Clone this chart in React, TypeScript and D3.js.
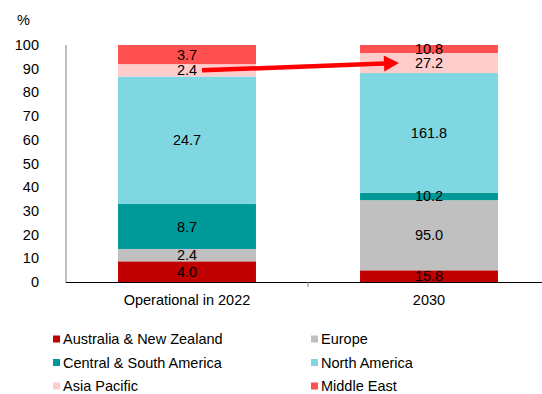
import * as d3 from "d3";

const categories = ["Operational in 2022", "2030"];
const regions = [
  "Australia & New Zealand",
  "Europe",
  "Central & South America",
  "North America",
  "Asia Pacific",
  "Middle East",
];
const colors = ["#C00000", "#C0C0C0", "#009999", "#7FD7E1", "#FFCCCC", "#FF5050"];
const values2022 = [4.0, 2.4, 8.7, 24.7, 2.4, 3.7];
const values2030 = [15.8, 95.0, 10.2, 161.8, 27.2, 10.8];
const yTicks = [0, 10, 20, 30, 40, 50, 60, 70, 80, 90, 100];

const width = 542;
const height = 394;
const font = "'Liberation Sans', Arial, sans-serif";
const fs = 14.5;

export default function App() {
  const rows = categories.map((c, i) => {
    const vals = i === 0 ? values2022 : values2030;
    const r: Record<string, number | string> = { category: c };
    regions.forEach((reg, j) => (r[reg] = vals[j]));
    return r;
  });
  const series = d3
    .stack<Record<string, number | string>>()
    .keys(regions)
    .offset(d3.stackOffsetExpand)(rows as any);

  const x = d3.scaleBand(categories, [66, 550]).paddingInner(0.43).paddingOuter(0.215);
  const y = d3.scaleLinear([0, 100], [282, 45]);

  // arrow between the Asia Pacific labels
  const ap = series[4];
  const ay0 = y(((ap[0][0] + ap[0][1]) / 2) * 100);
  const ay1 = y(((ap[1][0] + ap[1][1]) / 2) * 100);
  const ax0 = x(categories[0])! + x.bandwidth() / 2 + 15;
  const ax1 = x(categories[1])! + x.bandwidth() / 2 - 30;
  const ang = Math.atan2(ay1 - ay0, ax1 - ax0);
  const headLen = 15;
  const headW = 8;
  const bx = ax1 - headLen * Math.cos(ang);
  const by = ay1 - headLen * Math.sin(ang);
  const px = -Math.sin(ang);
  const py = Math.cos(ang);

  return (
    <svg
      width={width}
      height={height}
      style={{ position: "absolute", left: 0, top: 0, background: "#fff" }}
      fontFamily={font}
    >
      <text x={17} y={25} fontSize={fs} fill="#000">%</text>
      {yTicks.map((t) => (
        <text key={t} x={39} y={y(t)} dy="0.35em" textAnchor="end" fontSize={fs} fill="#000">
          {t}
        </text>
      ))}

      {series.map((s, i) =>
        s.map((d, j) => {
          const y0 = y(d[0] * 100);
          const y1 = y(d[1] * 100);
          return (
            <rect
              key={`${i}-${j}`}
              x={x(categories[j])}
              y={y1}
              width={x.bandwidth()}
              height={y0 - y1}
              fill={colors[i]}
            />
          );
        })
      )}
      {series.map((s, i) =>
        s.map((d, j) => (
          <text
            key={`l${i}-${j}`}
            x={x(categories[j])! + x.bandwidth() / 2}
            y={y(((d[0] + d[1]) / 2) * 100)}
            dy="0.35em"
            textAnchor="middle"
            fontSize={fs}
            fill="#000"
          >
            {(j === 0 ? values2022 : values2030)[i].toFixed(1)}
          </text>
        ))
      )}

      <line x1={66} x2={66} y1={45} y2={283} stroke="#808080" strokeWidth={1} />
      <line x1={66} x2={542} y1={282.5} y2={282.5} stroke="#000" strokeWidth={1} />
      <line x1={308} x2={308} y1={282} y2={287} stroke="#808080" strokeWidth={1} />
      {categories.map((c) => (
        <text
          key={c}
          x={x(c)! + x.bandwidth() / 2}
          y={300}
          dy="0.35em"
          textAnchor="middle"
          fontSize={fs}
          fill="#000"
        >
          {c}
        </text>
      ))}

      <line x1={ax0} y1={ay0} x2={bx} y2={by} stroke="#FF0000" strokeWidth={4.5} />
      <path
        d={`M${ax1},${ay1} L${bx + px * headW},${by + py * headW} L${bx - px * headW},${by - py * headW} Z`}
        fill="#FF0000"
      />

      {regions.map((r, i) => {
        const col = i % 2;
        const row = Math.floor(i / 2);
        const lx = col === 0 ? 53 : 311;
        const ly = 339 + row * 23.5;
        return (
          <g key={r}>
            <rect x={lx} y={ly - 3.5} width={7} height={7} fill={colors[i]} />
            <text x={lx + 10} y={ly} dy="0.35em" fontSize={fs} fill="#000">
              {r}
            </text>
          </g>
        );
      })}
    </svg>
  );
}
